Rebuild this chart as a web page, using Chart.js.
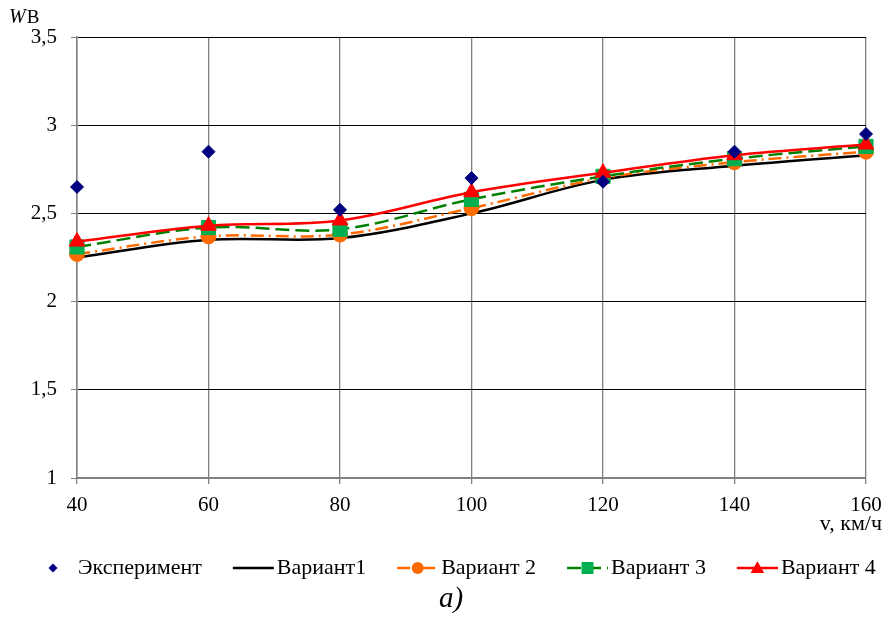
<!DOCTYPE html>
<html lang="ru">
<head>
<meta charset="utf-8">
<title>Wв — v</title>
<script src="https://cdn.jsdelivr.net/npm/chart.js@4/dist/chart.umd.min.js"></script>
<style>
  html, body { margin: 0; padding: 0; background: #ffffff; }
  #wrap { width: 884px; height: 621px; position: relative; }
  canvas { display: block; }
</style>
</head>
<body>
<div id="wrap"><canvas id="chart" width="884" height="621"></canvas></div>
<script>
// Speeds, km/h
const speeds = [40, 60, 80, 100, 120, 140, 160];

// Measured and computed Wв values per speed
const experiment = [2.65, 2.85, 2.52, 2.70, 2.68, 2.85, 2.95];
const variant1   = [2.25, 2.35, 2.36, 2.50, 2.69, 2.77, 2.83];
const variant2   = [2.27, 2.37, 2.38, 2.53, 2.70, 2.79, 2.85];
const variant3   = [2.31, 2.42, 2.41, 2.58, 2.71, 2.81, 2.88];
const variant4   = [2.34, 2.43, 2.46, 2.62, 2.73, 2.83, 2.89];

const seriesNames = ['Эксперимент', 'Вариант1', 'Вариант 2', 'Вариант 3', 'Вариант 4'];
const yTicks = [1, 1.5, 2, 2.5, 3, 3.5];
const xTitle = 'v, км/ч';
const yTitleMain = 'W';
const yTitleSub = 'В';
const caption = 'а)';

const SERIF = '"Liberation Serif", "Times New Roman", serif';

const pts = (vals) => speeds.map((x, i) => ({ x, y: vals[i] }));

// Small marker shapes for the legend row
function drawMarker(ctx, style, x, y, size, fill) {
  ctx.save();
  ctx.setLineDash([]);
  ctx.fillStyle = fill;
  ctx.beginPath();
  if (style === 'rectRot') {
    ctx.moveTo(x, y - size); ctx.lineTo(x + size, y); ctx.lineTo(x, y + size); ctx.lineTo(x - size, y);
  } else if (style === 'circle') {
    ctx.arc(x, y, size, 0, Math.PI * 2);
  } else if (style === 'rect') {
    ctx.rect(x - size, y - size, size * 2, size * 2);
  } else if (style === 'triangle') {
    ctx.moveTo(x, y - size * 1.05); ctx.lineTo(x + size * 1.05, y + size * 0.75); ctx.lineTo(x - size * 1.05, y + size * 0.75);
  }
  ctx.closePath();
  ctx.fill();
  ctx.restore();
}

const decorPlugin = {
  id: 'decor',
  afterDraw(chart) {
    const ctx = chart.ctx;
    ctx.save();
    // axis captions
    ctx.fillStyle = '#000';
    ctx.textBaseline = 'alphabetic';
    ctx.font = 'italic 20px ' + SERIF;
    ctx.textAlign = 'left';
    ctx.fillText(yTitleMain, 9, 23);
    const wW = ctx.measureText(yTitleMain).width;
    ctx.font = '19px ' + SERIF;
    ctx.fillText(yTitleSub, 9 + wW + 1, 23);
    ctx.font = '22px ' + SERIF;
    ctx.textAlign = 'right';
    ctx.textBaseline = 'middle';
    ctx.fillText(xTitle, 882, 524);

    // legend row
    ctx.textAlign = 'left';
    ctx.textBaseline = 'middle';
    const ly = 568;
    let x = 47;
    chart.data.datasets.forEach((ds) => {
      const isLine = ds.showLine !== false;
      const iconW = isLine ? 41 : 12;
      if (isLine) {
        ctx.save();
        ctx.strokeStyle = ds.borderColor;
        ctx.lineWidth = ds.borderWidth;
        ctx.setLineDash(ds.borderDash || []);
        ctx.beginPath();
        ctx.moveTo(x, ly);
        ctx.lineTo(x + iconW, ly);
        ctx.stroke();
        ctx.restore();
      }
      if (ds.pointRadius > 0) {
        const legendSize = { rectRot: 4.5, circle: 6, rect: 6, triangle: 6.5 }[ds.pointStyle];
        drawMarker(ctx, ds.pointStyle, x + iconW / 2, ly, legendSize, ds.pointBackgroundColor);
      }
      x += iconW + (isLine ? 3 : 19);
      ctx.fillStyle = '#000';
      ctx.font = '22px ' + SERIF;
      ctx.fillText(ds.label, x, ly);
      x += ctx.measureText(ds.label).width + 31;
    });

    // figure caption
    ctx.font = 'italic 29px ' + SERIF;
    ctx.textAlign = 'center';
    ctx.textBaseline = 'alphabetic';
    ctx.fillText(caption, 451, 607);
    ctx.restore();
  }
};

const lineBase = {
  fill: false,
  tension: 0.35,
  borderWidth: 2.5,
  pointBorderWidth: 1,
  pointHoverRadius: 0,
  clip: false
};

new Chart(document.getElementById('chart'), {
  type: 'line',
  data: {
    datasets: [
      {
        label: seriesNames[0], data: pts(experiment), showLine: false,
        pointStyle: 'rectRot', pointRadius: 6.5,
        borderColor: '#000080', pointBackgroundColor: '#000080', pointBorderColor: '#000080',
        pointBorderWidth: 1, order: 0, clip: false
      },
      Object.assign({}, lineBase, {
        label: seriesNames[1], data: pts(variant1),
        borderColor: '#000000', pointStyle: 'circle', pointRadius: 0,
        pointBackgroundColor: '#000000', order: 4
      }),
      Object.assign({}, lineBase, {
        label: seriesNames[2], data: pts(variant2),
        borderColor: '#FF6A00', borderDash: [13, 5, 2, 5],
        pointStyle: 'circle', pointRadius: 7.5,
        pointBackgroundColor: '#FF6A00', pointBorderColor: '#FF6A00', order: 3
      }),
      Object.assign({}, lineBase, {
        label: seriesNames[3], data: pts(variant3),
        borderColor: '#008000', borderDash: [14, 6],
        pointStyle: 'rect', pointRadius: 10,
        pointBackgroundColor: '#00B050', pointBorderColor: '#00B050', order: 2
      }),
      Object.assign({}, lineBase, {
        label: seriesNames[4], data: pts(variant4),
        borderColor: '#FF0000',
        pointStyle: 'triangle', pointRadius: 9,
        pointBackgroundColor: '#FF0000', pointBorderColor: '#FF0000', order: 1
      })
    ]
  },
  options: {
    responsive: false,
    animation: false,
    events: [],
    layout: { padding: { top: 37, right: 18, bottom: 0, left: 0 } },
    plugins: {
      legend: { display: false },
      tooltip: { enabled: false },
      title: { display: false }
    },
    scales: {
      x: {
        type: 'linear',
        min: speeds[0],
        max: speeds[speeds.length - 1],
        afterFit(scale) {
          scale.height = 143;
          scale.paddingLeft = 0;
          scale.paddingRight = 0;
        },
        afterBuildTicks(scale) { scale.ticks = speeds.map(v => ({ value: v })); },
        ticks: {
          color: '#000',
          font: { family: SERIF, size: 21 },
          padding: 9,
          maxRotation: 0,
          autoSkip: false
        },
        grid: { color: '#808080', lineWidth: 1.3, tickColor: '#808080', tickLength: 6 },
        border: { color: '#808080', width: 2 }
      },
      y: {
        min: yTicks[0],
        max: yTicks[yTicks.length - 1],
        afterFit(scale) {
          scale.width = 77;
          scale.paddingTop = 0;
          scale.paddingBottom = 0;
        },
        afterBuildTicks(scale) { scale.ticks = yTicks.map(v => ({ value: v })); },
        ticks: {
          color: '#000',
          font: { family: SERIF, size: 21 },
          padding: 14,
          callback: (v) => String(v).replace('.', ',')
        },
        grid: { color: '#000000', lineWidth: 1, tickColor: '#808080', tickLength: 6 },
        border: { color: '#808080', width: 1.5 }
      }
    }
  },
  plugins: [decorPlugin]
});
</script>
</body>
</html>
